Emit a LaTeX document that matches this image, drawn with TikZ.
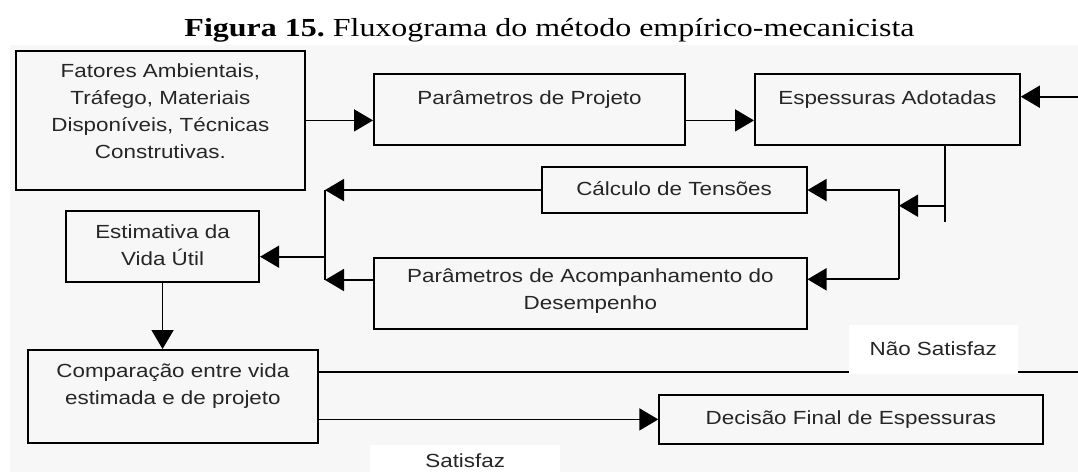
\documentclass[tikz,border=0pt]{standalone}
\usepackage{fontspec}
\setmainfont{Liberation Serif}
\newfontfamily\boxfont{Liberation Sans}[FakeStretch=1.18]
\newfontfamily\ttlfont{Liberation Serif}[FakeStretch=1.23]
\usetikzlibrary{arrows.meta}
\newcommand{\lns}[1]{\begin{tabular}[t]{@{}c@{}}#1\end{tabular}}

\begin{document}
\begin{tikzpicture}[x=1pt,y=-1pt,
  blk/.style={draw, line width=1.8pt, inner sep=0pt, anchor=north west,
    font=\boxfont\fontsize{19}{27}\selectfont, text=black!85},
  lbl/.style={fill=white, inner sep=0pt, anchor=north west,
    font=\boxfont\fontsize{19}{27}\selectfont, text=black!85},
  arr/.style={line width=1.8pt, -{Triangle[length=19pt,width=22pt]}},
  ln/.style={line width=1.8pt}]
 \useasboundingbox (0,0) rectangle (1078,472);
 \fill[black!3] (10,45) rectangle (1078,472);

 \node[anchor=base, font=\ttlfont\fontsize{26}{30}\selectfont] (ttl) at (549.5,36)
   {\bfseries Figura 15.\mdseries\ Fluxograma do método empírico-mecanicista};

 % caixas
 \node[blk, minimum width=289pt, text height=26.7pt, text depth=112.3pt] (fat) at (15,50)
   {\lns{Fatores Ambientais,\\Tráfego, Materiais\\Disponíveis, Técnicas\\Construtivas.}};
 \node[blk, minimum width=311.3pt, text height=30pt, text depth=40.7pt] (ppr) at (373,73.3)
   {Parâmetros de Projeto};
 \node[blk, minimum width=265pt, text height=30pt, text depth=41pt] (esp) at (754,73.3)
   {Espessuras Adotadas};
 \node[blk, minimum width=265pt, text height=29pt, text depth=17.3pt] (cal) at (540.7,166)
   {Cálculo de Tensões};
 \node[blk, minimum width=193.3pt, text height=27.3pt, text depth=43.7pt] (est) at (65,210)
   {\lns{Estimativa da\\Vida Útil}};
 \node[blk, minimum width=432.4pt, text height=25.3pt, text depth=46pt] (acp) at (373.3,256.7)
   {\lns{Parâmetros de Acompanhamento do\\Desempenho}};
 \node[blk, minimum width=289.4pt, text height=27.4pt, text depth=65.6pt] (cmp) at (27.3,349)
   {\lns{Comparação entre vida\\estimada e de projeto}};
 \node[blk, minimum width=383.4pt, text height=30pt, text depth=19pt] (dec) at (658.3,394)
   {Decisão Final de Espessuras};

 % pontos livres
 \coordinate (rin) at (1078,96.7);
 \coordinate (jm) at (945,205.7);
 \coordinate (jb) at (945,221.7);
 \coordinate (sr) at (899,205.7);
 \coordinate (sb) at (899,279.3);
 \coordinate (sl) at (325,256.7);
 \coordinate (sa) at (325,280);
 \coordinate (nr) at (1078,371.7);

 % ligacoes
 \draw[arr] (fat.east) -- (fat.east -| ppr.west);
 \draw[arr] (ppr.east |- fat.east) -- (esp.west |- fat.east);
 \draw[arr] (rin) -- (rin -| esp.east);
 \draw[ln] (esp.south -| jb) -- (jb);
 \draw[arr] (jm) -- (sr);
 \draw[arr] (sb) -- (sb |- cal.east) -- (cal.east);
 \draw[arr] (sb) -- (sb -| acp.east);
 \draw[arr] (cal.west) -- (cal.west -| sl);
 \draw[ln] (cal.west -| sl) -- (sa);
 \draw[arr] (sa -| acp.west) -- (sa);
 \draw[arr] (sl) -- (sl -| est.east);
 \draw[arr] (est.south) -- (est.south |- cmp.north);
 \draw[ln] (nr -| cmp.east) -- (nr);
 \draw[arr] (cmp.east |- dec.west) -- (dec.west);

 % rotulos
 \node[lbl, minimum width=169.4pt, text height=30.7pt, text depth=18.3pt] (nsat) at (848.3,325)
   {Não Satisfaz};
 \node[lbl, minimum width=190pt, text height=22pt, text depth=5pt] (sat) at (370,445)
   {Satisfaz};
\end{tikzpicture}
\end{document}
